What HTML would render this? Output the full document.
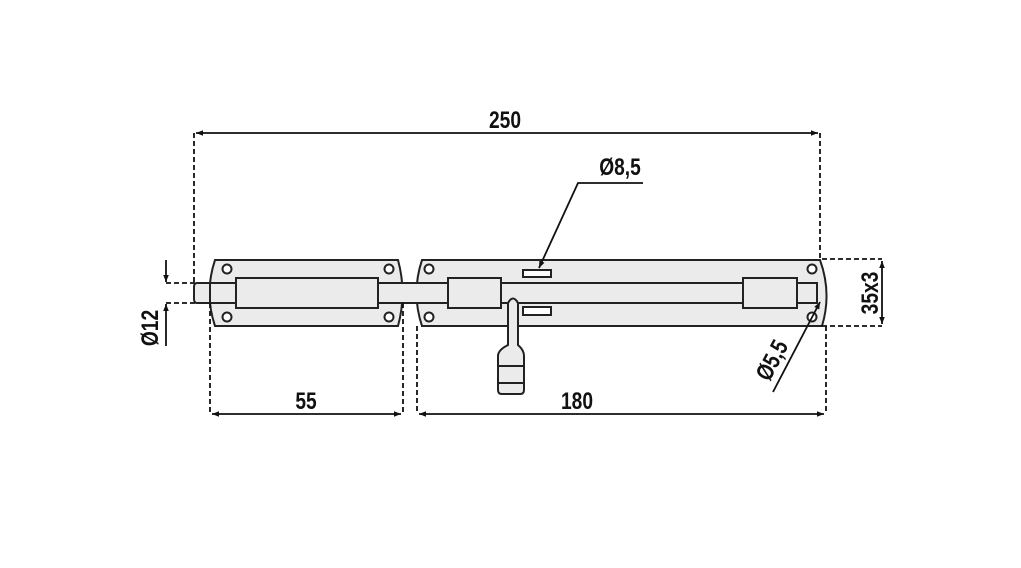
<!DOCTYPE html><html><head><style>body{margin:0;background:#fff}svg{display:block}text{font-family:"Liberation Sans",sans-serif;font-weight:bold;font-size:24px;fill:#111}</style></head><body>
<svg width="1021" height="568" viewBox="0 0 1021 568" xmlns="http://www.w3.org/2000/svg">
<defs><marker id="a" viewBox="0 0 10 10" refX="10" refY="5" markerWidth="9" markerHeight="7" orient="auto-start-reverse" markerUnits="userSpaceOnUse"><path d="M0,1 L10,5 L0,9 Z" fill="#111"/></marker></defs>
<g fill="#ebebeb" stroke="#222" stroke-width="2">
<path d="M215,260 L398,260 Q407,293 398,326 L215,326 Q204,293 215,260 Z"/>
<path d="M422,260 L820,260 Q832,293 822,326 L422,326 Q411,293 422,260 Z"/>
<path d="M210,283 L197,283 Q194,283 194,287 L194,299 Q194,303 197,303 L210,303"/>
<rect x="210" y="283" width="607" height="20"/>
<rect x="236" y="278" width="142" height="30"/>
<rect x="448" y="278" width="53" height="30"/>
<rect x="743" y="278" width="54" height="30"/>
<rect x="523" y="270" width="28" height="7" fill="#fff"/>
<rect x="523" y="307" width="28" height="8" fill="#fff"/>
<path d="M508,345 L508,303 Q513,294 518,303 L518,345 Q524,350 524,356 L524,390 Q524,394 520,394 L502,394 Q498,394 498,390 L498,356 Q498,350 508,345 Z"/>
<path d="M498,366 L524,366 M498,383 L524,383" fill="none"/>
</g>
<g fill="#fff" stroke="#222" stroke-width="2">
<circle cx="227" cy="269" r="4.5"/><circle cx="389" cy="269" r="4.5"/><circle cx="227" cy="317" r="4.5"/><circle cx="389" cy="317" r="4.5"/>
<circle cx="429" cy="269" r="4.5"/><circle cx="429" cy="317" r="4.5"/><circle cx="812" cy="269" r="4.5"/><circle cx="812" cy="317" r="4.5"/>
</g>
<g stroke="#111" stroke-width="1.8" fill="none" stroke-dasharray="5,3">
<path d="M194,133 V283 M820,133 V260 M210,303 V414 M403,303 V414 M417,326 V414 M826,326 V414 M822,259 H882 M822,326 H882 M166,283 H196 M166,303 H196"/>
</g>
<g stroke="#111" stroke-width="1.8" fill="none">
<line x1="196" y1="133" x2="818" y2="133" marker-start="url(#a)" marker-end="url(#a)"/>
<line x1="212" y1="414" x2="401" y2="414" marker-start="url(#a)" marker-end="url(#a)"/>
<line x1="419" y1="414" x2="824" y2="414" marker-start="url(#a)" marker-end="url(#a)"/>
<line x1="882" y1="261" x2="882" y2="324" marker-start="url(#a)" marker-end="url(#a)"/>
<line x1="166" y1="260" x2="166" y2="282" marker-end="url(#a)"/>
<line x1="166" y1="346" x2="166" y2="304" marker-end="url(#a)"/>
<path d="M643,183 H578 L539,268" marker-end="url(#a)"/>
<line x1="773" y1="392" x2="820" y2="302" marker-end="url(#a)"/>
</g>
<text transform="translate(505,128) scale(0.8,1)" text-anchor="middle">250</text>
<text transform="translate(620,175) scale(0.8,1)" text-anchor="middle">Ø8,5</text>
<text transform="translate(306,409) scale(0.8,1)" text-anchor="middle">55</text>
<text transform="translate(577,409) scale(0.8,1)" text-anchor="middle">180</text>
<text transform="translate(878,293) rotate(-90) scale(0.8,1)" text-anchor="middle">35x3</text>
<text transform="translate(158,328) rotate(-90) scale(0.8,1)" text-anchor="middle">Ø12</text>
<text transform="translate(779,364) rotate(-62) scale(0.8,1)" text-anchor="middle">Ø5,5</text>
</svg></body></html>
